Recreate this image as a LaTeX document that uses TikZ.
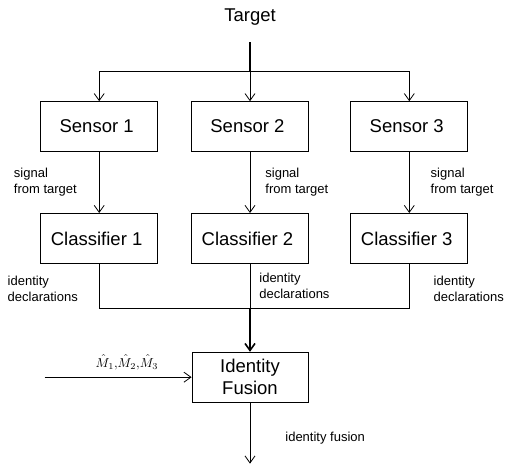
\documentclass[tikz,border=0pt]{standalone}
\usepackage{graphicx}
\usepackage[no-math]{fontspec}
\setmainfont{Liberation Sans}
\usetikzlibrary{matrix,positioning,arrows.meta}

\tikzset{
 block/.style={draw, minimum width=117pt, minimum height=50pt, inner sep=0pt, align=center, font=\fontsize{18.5}{22.2}\selectfont},
 note/.style={align=left, inner sep=0pt, font=\fontsize{13}{16}\selectfont},
 trunk/.style={line width=1.6pt}
}

\begin{document}
\begin{tikzpicture}[x=1pt, y=-1pt, line width=0.8pt, >={Straight Barb[length=7pt,width=10pt]}]
 \useasboundingbox (0,0) rectangle (506,466);
 \matrix (m) at (254.25,182.5) [matrix of nodes, nodes={block}, row sep=61pt, column sep=33pt, inner sep=0pt]
  {
    Sensor 1 & Sensor 2 &[8.5pt] Sensor 3 \\
    Classifier 1 & Classifier 2 & Classifier 3 \\
  };
 \node (target) at (250,17.5) [inner sep=0pt, font=\fontsize{18.5}{22.2}\selectfont] {Target};
 \node (fusion) [block, minimum width=116pt, below=88pt of m-2-2] {Identity\\Fusion};
 \coordinate (tap) at (250,42);
 \coordinate (split) at (250,71);
 \coordinate (join) at (250,308);
 \coordinate [left=147pt of fusion.west] (source);
 \coordinate [below=61pt of fusion.south] (sink);

 \draw[trunk] (tap) -- (split);
 \draw[->] (split) -| (m-1-1);
 \draw[->] (split) -| (m-1-3);
 \draw[->] (split) -- (m-1-2);
 \path[->]
  (m-1-1) edge node [note, left=22pt] {signal\\from target} (m-2-1)
  (m-1-2) edge node [note, right=15pt] {signal\\from target} (m-2-2)
  (m-1-3) edge node [note, right=21pt] {signal\\from target} (m-2-3)
;
 \draw (m-2-1) |- node [note, pos=0.28, left=21pt] {identity\\declarations} (join);
 \draw (m-2-3) |- node [note, pos=0.28, right=24pt] {identity\\declarations} (join);
 \draw (m-2-2) -- node [note, right=9pt] {identity\\declarations} (join);
 \draw[trunk, ->] (join) -- (fusion);
 \draw[->] (source) -- node [inner sep=0pt, above=7pt, pos=0.56] {\scalebox{1.3}{$\hat{M}_1{,}\hat{M}_2{,}\hat{M}_3$}} (fusion);
 \draw[->] (fusion) -- node [note, pos=0.59, right=35pt] {identity fusion} (sink);
\end{tikzpicture}
\end{document}
